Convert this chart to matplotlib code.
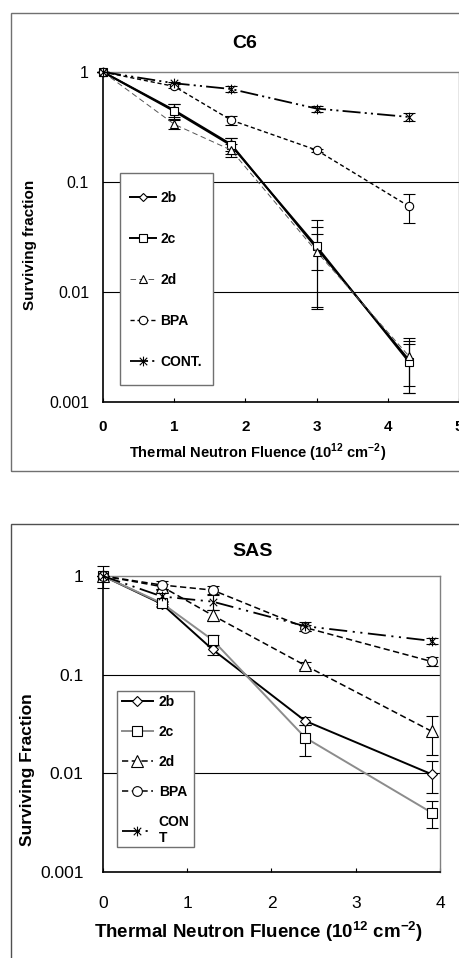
import matplotlib
matplotlib.use("Agg")
import matplotlib.pyplot as plt
from matplotlib.path import Path
from matplotlib.patches import Rectangle
from matplotlib.ticker import NullLocator, FixedLocator

plt.rcParams['font.family'] = ['Liberation Sans', 'DejaVu Sans']
plt.rcParams['lines.scale_dashes'] = False
plt.rcParams['mathtext.fontset'] = 'custom'
plt.rcParams['mathtext.bf'] = 'Liberation Sans:bold'
plt.rcParams['mathtext.rm'] = 'Liberation Sans'

# ---------------- data ----------------
series_names = ["2b", "2c", "2d", "BPA", "CONT."]
sas_names = ["2b", "2c", "2d", "BPA", "CON\nT"]

x_c6 = [0, 1, 1.8, 3, 4.3]
c6_2b = [1.0, 0.45, 0.22, 0.025, 0.0024]
c6_2b_err = [0, 0.06, 0.03, 0.009, 0.0012]
c6_2c = [1.0, 0.44, 0.215, 0.026, 0.0023]
c6_2c_err = [0, 0.07, 0.035, 0.019, 0.0011]
c6_2d = [1.0, 0.335, 0.195, 0.0233, 0.0026]
c6_2d_err = [0, 0.03, 0.025, 0.016, 0.0012]
c6_bpa = [1.0, 0.74, 0.365, 0.195, 0.060]
c6_bpa_err = [0, 0.03, 0.035, 0.006, 0.018]
c6_cont = [1.0, 0.79, 0.70, 0.465, 0.39]
c6_cont_err = [0, 0.02, 0.04, 0.03, 0.03]

x_sas = [0, 0.7, 1.3, 2.4, 3.9]
sas_2b = [1.0, 0.52, 0.18, 0.034, 0.0098]
sas_2b_err = [0, 0.03, 0.02, 0.003, 0.0035]
sas_2c = [1.0, 0.53, 0.225, 0.023, 0.0040]
sas_2c_err = [0, 0.03, 0.03, 0.008, 0.0012]
sas_2d = [1.0, 0.78, 0.40, 0.124, 0.0267]
sas_2d_err = [0, 0.05, 0.05, 0.01, 0.0115]
sas_bpa = [1.0, 0.81, 0.72, 0.30, 0.136]
sas_bpa_err = [0, 0.08, 0.08, 0.02, 0.015]
sas_cont = [1.0, 0.62, 0.55, 0.31, 0.22]
sas_cont_err = [0.25, 0.1, 0.1, 0.03, 0.015]

c6_xticks = [0, 1, 2, 3, 4, 5]
sas_xticks = [0, 1, 2, 3, 4]
y_ticks = [0.001, 0.01, 0.1, 1]
y_ticklabels = ["0.001", "0.01", "0.1", "1"]

fluence_label = r"Thermal Neutron Fluence (10$^{\mathbf{12}}$ cm$^{\mathbf{-2}}$)"

# asterisk marker: an X crossed by a vertical bar
star = Path([(-1, -1), (1, 1), (-1, 1), (1, -1), (0, -1.3), (0, 1.3)],
            [Path.MOVETO, Path.LINETO, Path.MOVETO, Path.LINETO,
             Path.MOVETO, Path.LINETO])

W, H = 460, 958
fig = plt.figure(figsize=(W / 100, H / 100), dpi=100)


def fx(px):
    return px / W


def fy(py):
    return 1 - py / H


# outer frames
fig.patches.append(Rectangle((fx(11), fy(471)), 1.1, fy(13) - fy(471),
                             transform=fig.transFigure, fill=False,
                             edgecolor="#707070", lw=1.0))
fig.patches.append(Rectangle((fx(11), -0.1), 1.1, fy(524) + 0.1,
                             transform=fig.transFigure, fill=False,
                             edgecolor="#505050", lw=1.0))


def style_axes(ax, xmax, xticks, bold_x, xfs, yfs, xpad, ypad):
    ax.set_yscale("log")
    ax.set_ylim(0.001, 1)
    ax.set_xlim(0, xmax)
    ax.yaxis.set_major_locator(FixedLocator(y_ticks))
    ax.yaxis.set_minor_locator(NullLocator())
    ax.set_yticklabels(y_ticklabels, fontsize=yfs)
    ax.set_xticks(xticks)
    ax.set_xticklabels([str(t) for t in xticks], fontsize=xfs,
                       fontweight="bold" if bold_x else "normal")
    ax.tick_params(axis="x", direction="in", length=3, width=0.8, pad=xpad)
    ax.tick_params(axis="y", length=0, pad=ypad)
    for s in ("left", "bottom"):
        ax.spines[s].set_color("black")
        ax.spines[s].set_linewidth(1.2)
    for s in ("top", "right"):
        ax.spines[s].set_color("#808080")
        ax.spines[s].set_linewidth(1.0)
    for yv in (0.1, 0.01):
        ax.axhline(yv, color="black", lw=0.8, zorder=1)


def draw(ax, x, y, err, color, lw, ls, marker, ms):
    cont = ax.errorbar(x, y, yerr=err, color=color, lw=lw, ls=ls,
                       marker=marker, ms=ms, mfc="white", mec="black",
                       mew=0.8, ecolor="black", elinewidth=0.8, capsize=4,
                       capthick=0.8, zorder=3)
    for art in cont.get_children():
        art.set_clip_on(False)
    return cont[0]


# ---------------- C6 ----------------
ax1 = fig.add_axes([fx(103), fy(402), fx(459) - fx(103), fy(72) - fy(402)])
style_axes(ax1, 5, c6_xticks, True, 11, 11.5, 13, 10)

dash_cont = (0, (13, 3, 1.5, 3, 1.5, 3))
h1 = [
    draw(ax1, x_c6, c6_2b, c6_2b_err, "black", 1.4, "-", "D", 4.5),
    draw(ax1, x_c6, c6_2c, c6_2c_err, "black", 1.4, "-", "s", 5.5),
    draw(ax1, x_c6, c6_2d, c6_2d_err, "#555555", 0.7, (0, (4, 2.5)), "^", 6),
    draw(ax1, x_c6, c6_bpa, c6_bpa_err, "black", 1.0, (0, (3, 2)), "o", 6),
    draw(ax1, x_c6, c6_cont, c6_cont_err, "black", 1.3, dash_cont, star, 7),
]

ax1.add_patch(Rectangle((fx(120), fy(385)), fx(213) - fx(120), fy(173) - fy(385),
                        transform=fig.transFigure, facecolor="white",
                        edgecolor="#707070", lw=1.0, zorder=4))
leg1 = ax1.legend(h1, series_names, loc="upper left",
                  bbox_to_anchor=(fx(130), fy(191)),
                  bbox_transform=fig.transFigure, frameon=False,
                  borderpad=0, borderaxespad=0, handlelength=1.9,
                  handletextpad=0.3, labelspacing=1.95, numpoints=1,
                  prop={"weight": "bold", "size": 10})
leg1.set_zorder(5)

fig.text(fx(245), fy(43), "C6", ha="center", va="center",
         fontsize=14, fontweight="bold")
fig.text(fx(30), fy(245), "Surviving fraction", rotation=90, ha="center",
         va="center", fontsize=11, fontweight="bold")
fig.text(fx(258), fy(453), fluence_label,
         ha="center", va="center", fontsize=10.5, fontweight="bold")

# ---------------- SAS ----------------
ax2 = fig.add_axes([fx(103), fy(872), fx(440) - fx(103), fy(576) - fy(872)])
style_axes(ax2, 4, sas_xticks, False, 12.5, 12.5, 17, 14)

dash_cont2 = (0, (13, 4, 1.5, 4, 1.5, 4))
h2 = [
    draw(ax2, x_sas, sas_2b, sas_2b_err, "black", 1.4, "-", "D", 5.5),
    draw(ax2, x_sas, sas_2c, sas_2c_err, "#8c8c8c", 1.4, "-", "s", 7),
    draw(ax2, x_sas, sas_2d, sas_2d_err, "black", 1.1, (0, (4.5, 2.5)), "^", 8),
    draw(ax2, x_sas, sas_bpa, sas_bpa_err, "black", 1.1, (0, (4.5, 2.5)), "o", 7),
    draw(ax2, x_sas, sas_cont, sas_cont_err, "black", 1.3, dash_cont2, star, 7),
]

ax2.add_patch(Rectangle((fx(117), fy(847)), fx(194) - fx(117), fy(691) - fy(847),
                        transform=fig.transFigure, facecolor="white",
                        edgecolor="#707070", lw=1.0, zorder=4))
leg2 = ax2.legend(h2, sas_names, loc="upper left",
                  bbox_to_anchor=(fx(122), fy(695)),
                  bbox_transform=fig.transFigure, frameon=False,
                  borderpad=0, borderaxespad=0, handlelength=2.2,
                  handletextpad=0.45, labelspacing=1.15, numpoints=1,
                  prop={"weight": "bold", "size": 10})
leg2.set_zorder(5)

fig.text(fx(253), fy(552), "SAS", ha="center", va="center",
         fontsize=14, fontweight="bold")
fig.text(fx(28), fy(770), "Surviving Fraction", rotation=90, ha="center",
         va="center", fontsize=12.5, fontweight="bold")
fig.text(fx(258), fy(932), fluence_label,
         ha="center", va="center", fontsize=13.5, fontweight="bold")

fig.savefig("out.png", dpi=100)
